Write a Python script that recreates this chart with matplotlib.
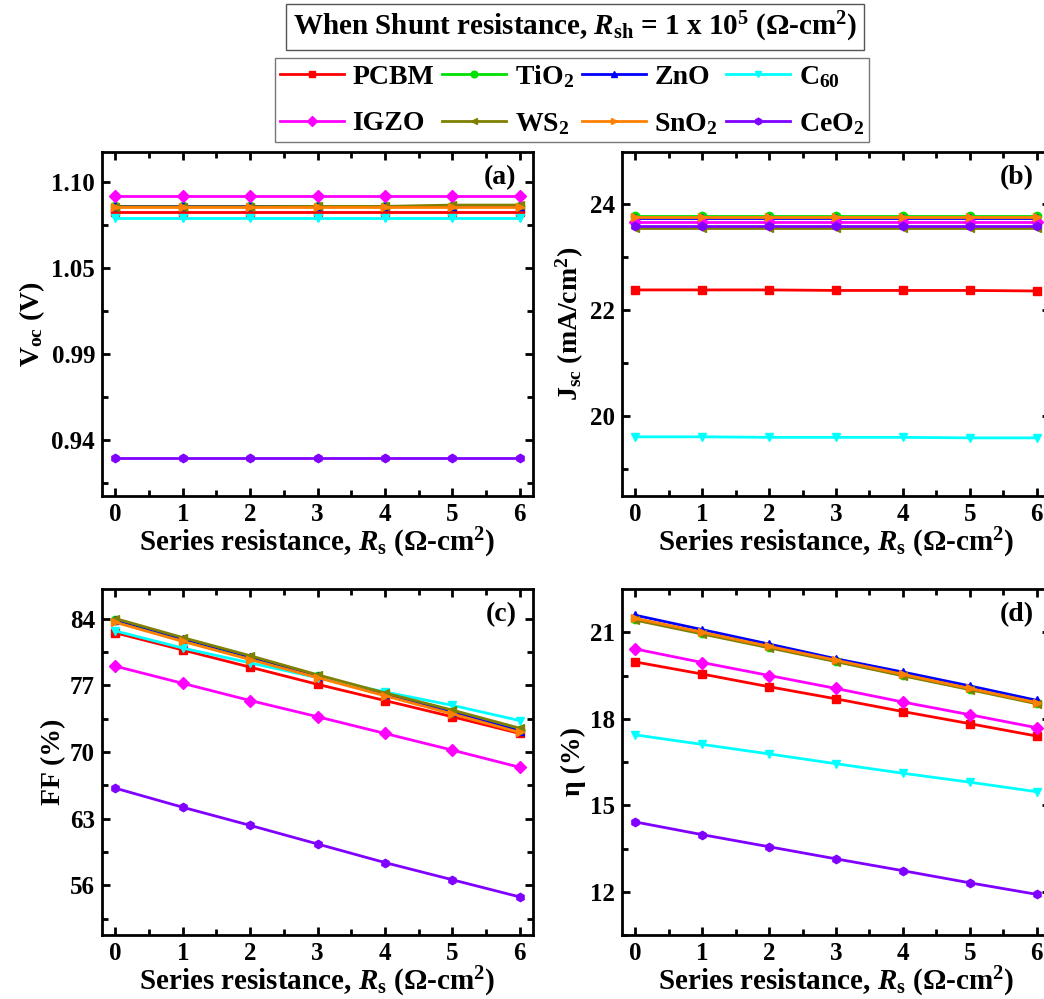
import matplotlib
matplotlib.use('Agg')
import matplotlib.pyplot as plt
import numpy as np

plt.rcParams['font.family'] = ['Liberation Serif', 'DejaVu Serif']
plt.rcParams['font.weight'] = 'bold'
plt.rcParams['axes.labelweight'] = 'bold'
plt.rcParams['mathtext.fontset'] = 'custom'
plt.rcParams['mathtext.rm'] = 'Liberation Serif:bold'
plt.rcParams['mathtext.bf'] = 'Liberation Serif:bold'
plt.rcParams['mathtext.it'] = 'Liberation Serif:bold:italic'

# series resistance (ohm cm^2)
rs = [0, 1, 2, 3, 4, 5, 6]

names = ['PCBM', 'TiO$_2$', 'ZnO', 'C$_{60}$', 'IGZO', 'WS$_2$', 'SnO$_2$', 'CeO$_2$']
colors = ['#ff0000', '#00e000', '#0000ff', '#00ffff', '#ff00ff', '#808000', '#ff8000', '#8000ff']
markers = ['s', 'o', '^', 'v', 'D', '<', '>', 'h']

# Voc (V)
voc_pcbm = [1.0795] * 7
voc_tio2 = [1.083] * 7
voc_zno = [1.083] * 7
voc_c60 = [1.0755] * 7
voc_igzo = [1.0893] * 7
voc_ws2 = [1.0826, 1.0826, 1.0826, 1.0828, 1.0828, 1.0836, 1.0836]
voc_sno2 = [1.0826] * 7
voc_ceo2 = [0.929] * 7

# Jsc (mA/cm2)
jsc_pcbm = [22.38, 22.38, 22.38, 22.37, 22.37, 22.37, 22.36]
jsc_tio2 = [23.77] * 7
jsc_zno = [23.75] * 7
jsc_c60 = [19.60, 19.60, 19.59, 19.59, 19.59, 19.58, 19.58]
jsc_igzo = [23.66] * 7
jsc_ws2 = [23.55] * 7
jsc_sno2 = [23.76] * 7
jsc_ceo2 = [23.59] * 7

# FF (%)
ff_pcbm = [82.5, 80.7, 78.9, 77.1, 75.4, 73.7, 71.95]
ff_tio2 = [83.8, 81.8, 79.9, 78.0, 76.1, 74.2, 72.3]
ff_zno = [83.9, 81.9, 80.0, 78.0, 76.1, 74.2, 72.2]
ff_c60 = [82.7, 80.9, 79.35, 77.8, 76.3, 74.9, 73.3]
ff_igzo = [79.0, 77.2, 75.4, 73.7, 71.95, 70.2, 68.4]
ff_ws2 = [84.0, 82.0, 80.1, 78.1, 76.2, 74.4, 72.5]
ff_sno2 = [83.6, 81.6, 79.7, 77.8, 75.9, 74.0, 72.05]
ff_ceo2 = [66.2, 64.2, 62.3, 60.35, 58.4, 56.6, 54.8]

# efficiency (%)
eta_pcbm = [19.97, 19.55, 19.11, 18.69, 18.25, 17.83, 17.40]
eta_tio2 = [21.45, 20.97, 20.49, 20.0, 19.51, 19.03, 18.55]
eta_zno = [21.59, 21.09, 20.59, 20.08, 19.62, 19.14, 18.64]
eta_c60 = [17.44, 17.11, 16.78, 16.44, 16.11, 15.80, 15.47]
eta_igzo = [20.42, 19.95, 19.50, 19.05, 18.58, 18.14, 17.69]
eta_ws2 = [21.42, 20.94, 20.46, 19.98, 19.49, 19.01, 18.52]
eta_sno2 = [21.48, 21.0, 20.51, 20.03, 19.54, 19.05, 18.56]
eta_ceo2 = [14.42, 13.98, 13.56, 13.14, 12.73, 12.31, 11.91]

voc = [voc_pcbm, voc_tio2, voc_zno, voc_c60, voc_igzo, voc_ws2, voc_sno2, voc_ceo2]
jsc = [jsc_pcbm, jsc_tio2, jsc_zno, jsc_c60, jsc_igzo, jsc_ws2, jsc_sno2, jsc_ceo2]
ff = [ff_pcbm, ff_tio2, ff_zno, ff_c60, ff_igzo, ff_ws2, ff_sno2, ff_ceo2]
eta = [eta_pcbm, eta_tio2, eta_zno, eta_c60, eta_igzo, eta_ws2, eta_sno2, eta_ceo2]

fig = plt.figure(figsize=(10.44, 9.99), dpi=100)
W, H = 1044, 999

def make_ax(x0, x1, y0, y1):
    return fig.add_axes([x0 / W, 1 - y1 / H, (x1 - x0) / W, (y1 - y0) / H])

ax_a = make_ax(102, 533, 152, 496)
ax_b = make_ax(622, 1050, 152, 496)
ax_c = make_ax(102, 533, 589, 935)
ax_d = make_ax(622, 1050, 589, 935)

xlabel = r'Series resistance, $\mathit{R}_{\mathrm{s}}$ ($\Omega$-cm$^{2}$)'

panels = [
    (ax_a, voc, r'V$_{\mathrm{oc}}$ (V)', (0.906, 1.116), [0.94, 0.9925, 1.045, 1.0975],
     ['0.94', '0.99', '1.05', '1.10'], '(a)'),
    (ax_b, jsc, r'J$_{\mathrm{sc}}$ (mA/cm$^{2}$)', (18.48, 24.99), [20, 22, 24],
     ['20', '22', '24'], '(b)'),
    (ax_c, ff, 'FF (%)', (50.8, 87.1), [56, 63, 70, 77, 84],
     ['56', '63', '70', '77', '84'], '(c)'),
    (ax_d, eta, 'η (%)', (10.95, 22.5), [12, 15, 18, 21],
     ['12', '15', '18', '21'], '(d)'),
]

lines = []
for ax, data, ylab, ylim, yt, ytl, tag in panels:
    lines = []
    for vals, name, c, m in zip(data, names, colors, markers):
        l, = ax.plot(rs, vals, color=c, marker=m, markersize=6, linewidth=2, label=name)
        lines.append(l)
    ax.set_xlim(-0.2, 6.2)
    ax.set_ylim(*ylim)
    ax.set_xticks(rs)
    ax.set_xticks(np.arange(0.5, 6, 1), minor=True)
    ax.set_yticks(yt)
    ax.set_yticklabels(ytl)
    step = yt[1] - yt[0]
    ax.set_yticks(np.arange(yt[0] - step / 2, ylim[1], step), minor=True)
    ax.tick_params(which='both', direction='in', top=True, right=True, width=2,
                   labelsize=18, pad=5)
    ax.tick_params(which='major', length=6)
    ax.tick_params(which='minor', length=4)
    for s in ax.spines.values():
        s.set_linewidth(2)
    ax.set_xlabel(xlabel, fontsize=21, labelpad=0)
    ax.set_ylabel(ylab, fontsize=20, labelpad=3)
    ax.text(0.962, 0.925, tag, transform=ax.transAxes, ha='right', va='center',
            fontsize=20, fontweight='bold')

# header box
fig.text(575 / W, 1 - 27 / H,
         r'When Shunt resistance, $\mathit{R}_{\mathrm{sh}}$ = 1 x 10$^{5}$ ($\Omega$-cm$^{2}$)',
         ha='center', va='center', fontsize=21, fontweight='bold',
         bbox=dict(boxstyle='square,pad=0.22', facecolor='white', edgecolor='#555555', linewidth=1))

# legend filled row by row (4 columns, 2 rows)
order = [0, 4, 1, 5, 2, 6, 3, 7]
leg = fig.legend(handles=[lines[i] for i in order], loc='center',
                 bbox_to_anchor=(572 / W, 1 - 100 / H),
                 ncol=4, fontsize=20, frameon=True, fancybox=False, edgecolor='#555555',
                 handlelength=2.3, handletextpad=0.3, columnspacing=0.3,
                 borderpad=0.2, labelspacing=0.75, markerscale=0.8,
                 borderaxespad=0)
leg.get_frame().set_linewidth(1)

fig.savefig('out.png', dpi=100)
